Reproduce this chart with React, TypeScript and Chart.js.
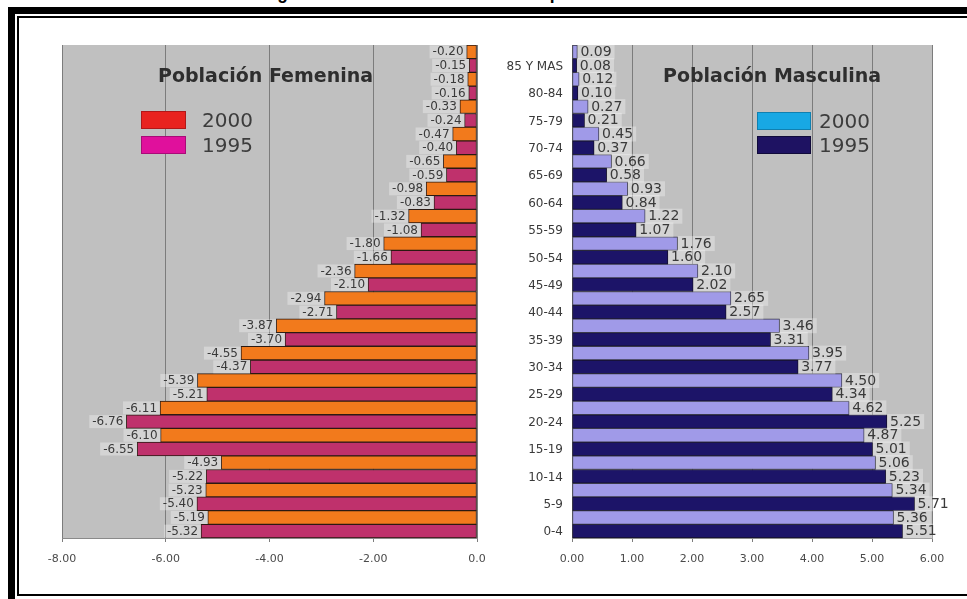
import React, { useEffect, useRef } from "react";
import { Chart, registerables } from "chart.js";
Chart.register(...registerables);

const ageGroups = ["85 Y MAS", "80-84", "75-79", "70-74", "65-69", "60-64", "55-59", "50-54", "45-49", "40-44", "35-39", "30-34", "25-29", "20-24", "15-19", "10-14", "5-9", "0-4"];
const fem2000 = [-0.20, -0.18, -0.33, -0.47, -0.65, -0.98, -1.32, -1.80, -2.36, -2.94, -3.87, -4.55, -5.39, -6.11, -6.10, -4.93, -5.23, -5.19];
const fem1995 = [-0.15, -0.16, -0.24, -0.40, -0.59, -0.83, -1.08, -1.66, -2.10, -2.71, -3.70, -4.37, -5.21, -6.76, -6.55, -5.22, -5.40, -5.32];
const masc2000 = [0.09, 0.12, 0.27, 0.45, 0.66, 0.93, 1.22, 1.76, 2.10, 2.65, 3.46, 3.95, 4.50, 4.62, 4.87, 5.06, 5.34, 5.36];
const masc1995 = [0.08, 0.10, 0.21, 0.37, 0.58, 0.84, 1.07, 1.60, 2.02, 2.57, 3.31, 3.77, 4.34, 5.25, 5.01, 5.23, 5.71, 5.51];
const seriesNames = ["2000", "1995"];
const femTicks = [-8, -6, -4, -2, 0];
const mascTicks = [0, 1, 2, 3, 4, 5, 6];

const FONT = "'DejaVu Sans', Verdana, sans-serif";

const bgPlugin = {
  id: "bgfill",
  beforeDraw(chart: any) {
    const { ctx, chartArea } = chart;
    if (!chartArea) return;
    ctx.save();
    ctx.fillStyle = "#c0c0c0";
    ctx.fillRect(chartArea.left, chartArea.top, chartArea.right - chartArea.left, chartArea.bottom - chartArea.top);
    ctx.restore();
  },
};

function makeValuePlugin(side: "left" | "right", size: number) {
  return {
    id: "values-" + side,
    afterDatasetsDraw(chart: any) {
      const ctx = chart.ctx;
      ctx.save();
      ctx.font = `${size}px ${FONT}`;
      ctx.textBaseline = "middle";
      ctx.textAlign = "left";
      chart.data.datasets.forEach((ds: any, di: number) => {
        const meta = chart.getDatasetMeta(di);
        meta.data.forEach((bar: any, i: number) => {
          const v = ds.data[i] as number;
          const txt = v.toFixed(2);
          const w = ctx.measureText(txt).width;
          const { x, y } = bar.getProps(["x", "y"], true);
          const h = size + 1;
          const bx = side === "left" ? x - w - 6 : x;
          ctx.fillStyle = "rgba(255,255,255,0.32)";
          ctx.fillRect(bx, y - h / 2, w + 6, h);
          ctx.fillStyle = "#3a3a3a";
          ctx.fillText(txt, bx + 3, y + 0.5);
        });
      });
      ctx.restore();
    },
  };
}

export default function App() {
  const leftRef = useRef<HTMLCanvasElement>(null);
  const rightRef = useRef<HTMLCanvasElement>(null);

  useEffect(() => {
    const common = {
      categoryPercentage: 1,
      barPercentage: 1,
      borderWidth: 1,
      borderSkipped: false as const,
    };
    const left = new Chart(leftRef.current as HTMLCanvasElement, {
      type: "bar",
      data: {
        labels: ageGroups,
        datasets: [
          { ...common, label: seriesNames[0], data: fem2000, backgroundColor: "#f27a1c", borderColor: "#2b1a12" },
          { ...common, label: seriesNames[1], data: fem1995, backgroundColor: "#bf316c", borderColor: "#2b1a12" },
        ],
      },
      options: {
        indexAxis: "y",
        animation: false,
        responsive: false,
        layout: { padding: { left: 42, right: 23, top: 25, bottom: 20 } },
        plugins: { legend: { display: false }, tooltip: { enabled: false } },
        scales: {
          x: {
            min: femTicks[0],
            max: femTicks[femTicks.length - 1],
            afterBuildTicks: (s: any) => {
              s.ticks = femTicks.map((v) => ({ value: v }));
            },
            ticks: {
              callback: (v: any) => (Number(v) === 0 ? "0.0" : Number(v).toFixed(2)),
              font: { family: FONT, size: 11 },
              color: "#4a4a4a",
              padding: 11,
            },
            grid: { color: "#7c7c7c", tickLength: 4 },
            border: { color: "#8a8a8a" },
            afterFit: (s: any) => {
              s.height = 32;
            },
          },
          y: { display: false },
        },
      },
      plugins: [bgPlugin, makeValuePlugin("left", 12)],
    } as any);

    const right = new Chart(rightRef.current as HTMLCanvasElement, {
      type: "bar",
      data: {
        labels: ageGroups,
        datasets: [
          { ...common, label: seriesNames[0], data: masc2000, backgroundColor: "#a09ae8", borderColor: "#3a3a4a" },
          { ...common, label: seriesNames[1], data: masc1995, backgroundColor: "#1c1468", borderColor: "#14102a" },
        ],
      },
      options: {
        indexAxis: "y",
        animation: false,
        responsive: false,
        layout: { padding: { left: 0, right: 35, top: 25, bottom: 20 } },
        plugins: { legend: { display: false }, tooltip: { enabled: false } },
        scales: {
          x: {
            min: mascTicks[0],
            max: mascTicks[mascTicks.length - 1],
            afterBuildTicks: (s: any) => {
              s.ticks = mascTicks.map((v) => ({ value: v }));
            },
            ticks: {
              callback: (v: any) => Number(v).toFixed(2),
              font: { family: FONT, size: 11 },
              color: "#4a4a4a",
              padding: 11,
            },
            grid: { color: "#7c7c7c", tickLength: 4 },
            border: { color: "#8a8a8a" },
            afterFit: (s: any) => {
              s.height = 32;
            },
          },
          y: {
            ticks: {
              font: { family: FONT, size: 12 },
              color: "#3a3a3a",
              padding: 9,
              labelOffset: 8,
              autoSkip: false,
            },
            grid: { display: false, drawTicks: false },
            border: { color: "#8a8a8a" },
            afterFit: (s: any) => {
              s.width = 82;
            },
          },
        },
      },
      plugins: [bgPlugin, makeValuePlugin("right", 14)],
    } as any);

    return () => {
      left.destroy();
      right.destroy();
    };
  }, []);

  const abs = (l: number, t: number, extra: any = {}) => ({ position: "absolute" as const, left: l, top: t, ...extra });
  const legendText = { fontFamily: FONT, fontSize: 20, color: "#3c3c3c", lineHeight: "20px", whiteSpace: "nowrap" as const };
  const titleText = { fontFamily: FONT, fontSize: 19, fontWeight: 700, color: "#2e2e2e", lineHeight: "20px", whiteSpace: "nowrap" as const };

  return (
    <div style={{ position: "absolute", left: 0, top: 0, width: 967, height: 599, overflow: "hidden", background: "#fff" }}>
      <svg style={abs(0, 0, { overflow: "visible" })} width={967} height={10}>
        <text x={262} y={-1} textLength={466} lengthAdjust="spacingAndGlyphs" fontFamily="Liberation Sans, Arial, sans-serif" fontWeight="bold" fontSize={19} fill="#000">
          Figura 2. Pirámide de edades de la población 1995 - 2000
        </text>
      </svg>
      <div style={abs(8, 7, { width: 1000, height: 640, border: "7px solid #000", boxSizing: "border-box" })} />
      <div style={abs(17, 16, { width: 1000, height: 580, border: "2px solid #000", boxSizing: "border-box" })} />
      <canvas ref={leftRef} width={480} height={570} style={abs(20, 20, { width: 480, height: 570 })} />
      <canvas ref={rightRef} width={477} height={570} style={abs(490, 20, { width: 477, height: 570 })} />

      <div style={abs(158, 65, titleText)}>Población Femenina</div>
      <div style={abs(141, 111, { width: 45, height: 18, background: "#e8231f", boxSizing: "border-box", border: "1px solid #b01818" })} />
      <div style={abs(141, 136, { width: 45, height: 18, background: "#e0109c", boxSizing: "border-box", border: "1px solid #a80c78" })} />
      <div style={abs(202, 110, legendText)}>{seriesNames[0]}</div>
      <div style={abs(202, 135, legendText)}>{seriesNames[1]}</div>

      <div style={abs(663, 65, titleText)}>Población Masculina</div>
      <div style={abs(757, 112, { width: 54, height: 18, background: "#18a8e4", boxSizing: "border-box", border: "1px solid #1080b0" })} />
      <div style={abs(757, 136, { width: 54, height: 18, background: "#1e1262", boxSizing: "border-box", border: "1px solid #100a3a" })} />
      <div style={abs(819, 111, legendText)}>{seriesNames[0]}</div>
      <div style={abs(819, 135, legendText)}>{seriesNames[1]}</div>
    </div>
  );
}
